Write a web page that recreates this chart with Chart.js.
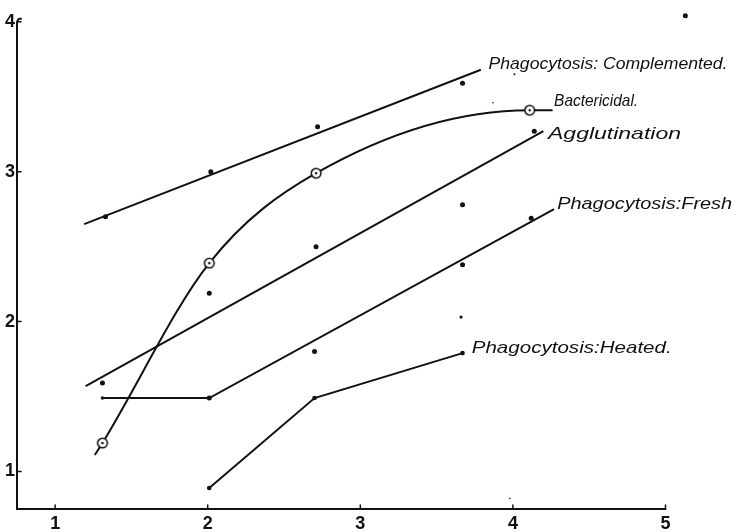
<!DOCTYPE html>
<html>
<head>
<meta charset="utf-8">
<script src="https://cdn.jsdelivr.net/npm/chart.js@4"></script>
<style>
  html, body { margin: 0; background: #fff; }
  #wrap { width: 734px; height: 532px; }
</style>
</head>
<body>
<div id="wrap"><canvas id="chart"></canvas></div>
<script>
// tick labels
const xTicks = [1, 2, 3, 4, 5];
const yTicks = [1, 2, 3, 4];

// series names (written beside the curves)
const seriesNames = ['Phagocytosis: Complemented.', 'Bactericidal.', 'Agglutination', 'Phagocytosis:Fresh', 'Phagocytosis:Heated.'];

// Phagocytosis: Complemented
const complementedLineX = [1.19, 3.79];
const complementedLineY = [2.65, 3.68];
const complementedX = [1.33, 2.02, 2.72, 3.67];
const complementedY = [2.70, 3.00, 3.30, 3.59];

// Bactericidal (ringed points, ends of the curve without marker)
const bactericidalX = [1.26, 1.31, 2.01, 2.71, 4.11, 4.26];
const bactericidalY = [1.11, 1.19, 2.39, 2.99, 3.41, 3.41];
const bactericidalMarked = [false, true, true, true, true, false];

// Agglutination
const agglutinationLineX = [1.20, 4.20];
const agglutinationLineY = [1.57, 3.27];
const agglutinationX = [1.31, 2.01, 2.71, 3.67, 4.14];
const agglutinationY = [1.59, 2.19, 2.50, 2.78, 3.27];

// Phagocytosis: Fresh
const freshLineX = [1.31, 2.01, 4.27];
const freshLineY = [1.49, 1.49, 2.75];
const freshX = [2.70, 3.67, 4.12];
const freshY = [1.80, 2.38, 2.69];

// Phagocytosis: Heated
const heatedX = [2.01, 2.70, 3.67];
const heatedY = [0.89, 1.49, 1.79];

// stray marks on the sheet
const strayX = [5.13, 3.66, 4.01, 3.87, 3.98];
const strayY = [4.04, 2.03, 3.65, 3.46, 0.82];
const straySize = [2.5, 1.6, 1, 0.8, 0.8];

const ink = '#111';
const pts = (xs, ys) => xs.map((x, i) => ({ x, y: ys[i] }));

// ringed marker for the bactericidal curve
const ring = document.createElement('canvas');
ring.width = 14; ring.height = 14;
(() => {
  const c = ring.getContext('2d');
  c.fillStyle = '#fff';
  c.strokeStyle = ink;
  c.lineWidth = 1.6;
  c.beginPath(); c.arc(7, 7, 4.8, 0, Math.PI * 2); c.fill(); c.stroke();
  c.fillStyle = ink;
  c.beginPath(); c.arc(7, 7, 1.3, 0, Math.PI * 2); c.fill();
})();

const lineSet = (data, extra) => Object.assign({
  type: 'line', data, borderColor: ink, borderWidth: 2, pointRadius: 0, fill: false
}, extra);
const dotSet = (data, r) => ({
  type: 'scatter', data, backgroundColor: ink, borderWidth: 0, pointRadius: r
});

const data = {
  datasets: [
    lineSet(pts(complementedLineX, complementedLineY)),
    dotSet(pts(complementedX, complementedY), 2.5),
    lineSet(pts(bactericidalX, bactericidalY), {
      cubicInterpolationMode: 'monotone',
      pointStyle: ring,
      pointRadius: bactericidalMarked.map((m) => (m ? 5 : 0)),
    }),
    lineSet(pts(agglutinationLineX, agglutinationLineY)),
    dotSet(pts(agglutinationX, agglutinationY), 2.5),
    lineSet(pts(freshLineX, freshLineY), { pointRadius: [1.8, 2.5, 0], pointBackgroundColor: ink, pointBorderWidth: 0 }),
    dotSet(pts(freshX, freshY), 2.5),
    lineSet(pts(heatedX, heatedY), { pointRadius: 2.3, pointBackgroundColor: ink, pointBorderWidth: 0 }),
    dotSet(pts(strayX, strayY), straySize),
  ],
};

// hand-drawn style axes: stop at 5 and 4, with inward ticks
const axesPlugin = {
  id: 'axes',
  beforeDatasetsDraw(chart) {
    const { ctx, scales: { x, y } } = chart;
    const x0 = x.getPixelForValue(x.min), y0 = y.getPixelForValue(y.min);
    const x1 = x.getPixelForValue(xTicks[xTicks.length - 1]);
    const y1 = y.getPixelForValue(yTicks[yTicks.length - 1]);
    ctx.save();
    ctx.strokeStyle = ink;
    ctx.lineWidth = 2;
    ctx.lineCap = 'round';
    ctx.beginPath();
    ctx.moveTo(x0 + 4, y1 - 3);
    ctx.quadraticCurveTo(x0, y1 - 4, x0, y1 + 2);
    ctx.lineTo(x0, y0);
    ctx.lineTo(x1, y0);
    ctx.stroke();
    ctx.lineWidth = 1.5;
    ctx.beginPath();
    xTicks.forEach((v) => {
      const px = x.getPixelForValue(v);
      ctx.moveTo(px, y0); ctx.lineTo(px, y0 - 4);
    });
    yTicks.forEach((v) => {
      const py = y.getPixelForValue(v);
      ctx.moveTo(x0, py); ctx.lineTo(x0 + 4, py);
    });
    ctx.stroke();
    ctx.restore();
  },
};

// curve names: [x, y] of left-middle of the text, and its width in px
const labelPlaces = [[3.84, 3.72, 239], [4.27, 3.47, 84], [4.23, 3.25, 133], [4.29, 2.78, 175], [3.73, 1.82, 200]];
const labelPlugin = {
  id: 'names',
  afterDatasetsDraw(chart) {
    const { ctx, scales: { x, y } } = chart;
    ctx.save();
    ctx.fillStyle = ink;
    ctx.textBaseline = 'middle';
    ctx.font = 'italic 17px "Liberation Sans", sans-serif';
    seriesNames.forEach((name, i) => {
      const [lx, ly, w] = labelPlaces[i];
      const k = w / ctx.measureText(name).width;
      ctx.save();
      ctx.translate(x.getPixelForValue(lx), y.getPixelForValue(ly));
      ctx.scale(k, 1);
      ctx.fillText(name, 0, 0);
      ctx.restore();
    });
    ctx.restore();
  },
};

const tickFont = { family: '"Liberation Sans", Arial, sans-serif', size: 18, weight: 'bold' };

const config = {
  type: 'scatter',
  data,
  options: {
    responsive: true,
    maintainAspectRatio: false,
    animation: false,
    layout: { padding: { left: 2, right: 38, top: 8, bottom: 0 } },
    plugins: {
      legend: { display: false },
      tooltip: { enabled: false },
    },
    scales: {
      x: {
        type: 'linear',
        min: 0.75,
        max: 5.2,
        afterBuildTicks: (s) => { s.ticks = xTicks.map((v) => ({ value: v })); },
        afterFit: (s) => { s.height = 23; },
        grid: { display: false, drawTicks: false },
        border: { display: false },
        ticks: { color: ink, font: tickFont, padding: 4 },
      },
      y: {
        type: 'linear',
        min: 0.75,
        max: 4.06,
        afterBuildTicks: (s) => { s.ticks = yTicks.map((v) => ({ value: v })); },
        afterFit: (s) => { s.width = 15; },
        grid: { display: false, drawTicks: false },
        border: { display: false },
        ticks: { color: ink, font: tickFont, padding: 2 },
      },
    },
  },
  plugins: [axesPlugin, labelPlugin],
};

new Chart(document.getElementById('chart'), config);
</script>
</body>
</html>
